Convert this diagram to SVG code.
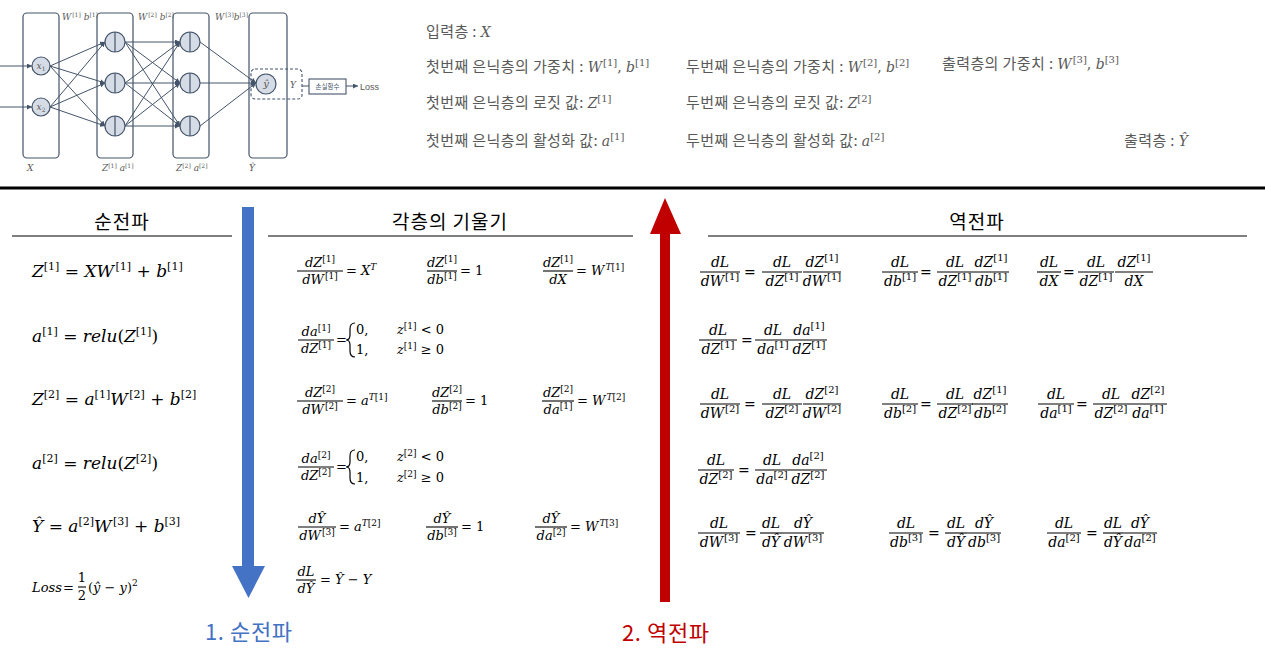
<svg xmlns="http://www.w3.org/2000/svg" width="1265" height="671" viewBox="0 0 1265 671">
<defs>
<style>
.k{font-family:"Noto Sans CJK KR","Noto Sans",sans-serif;fill:#595959;font-size:15px;letter-spacing:0.4px}
.h{font-family:"Noto Sans CJK KR",sans-serif;fill:#000;font-size:19px;text-anchor:middle;letter-spacing:1px}
.m{font-family:"DejaVu Serif",serif;font-style:italic;fill:#000}
.mg{font-family:"DejaVu Serif",serif;font-style:italic;fill:#595959;font-size:14px;letter-spacing:0}
.u{font-style:normal}
.L{font-size:17px}
.g{font-size:13px}
.r{font-size:14px}
.f{text-anchor:middle}
.f line{stroke:#000;stroke-width:1.1}
.s9{font-size:9px;font-style:normal}
.s10{font-size:10px;font-style:normal}
.s11{font-size:11px;font-style:normal}
.s6{font-size:6px;font-style:normal}
.i{font-style:italic}
.ly{fill:none;stroke:#44546a;stroke-width:1.2}
.nd{fill:#d6dce5;stroke:#44546a;stroke-width:1.2}
.vl{stroke:#44546a;stroke-width:1.2}
.cn line{stroke:#44546a;stroke-width:1;marker-end:url(#ah)}
.tl{font-family:"DejaVu Serif",serif;font-style:italic;fill:#595959;font-size:9px}
.br{fill:none;stroke:#000;stroke-width:1.2}
.rule{stroke:#000;stroke-width:1.2}
.big{font-family:"Noto Sans CJK KR",sans-serif;font-size:22px;letter-spacing:0.6px}
</style>
<marker id="ah" viewBox="0 0 6 6" refX="6" refY="3" markerWidth="5" markerHeight="5" orient="auto" markerUnits="userSpaceOnUse"><path d="M0,0L6,3L0,6z" fill="#44546a"/></marker>
</defs>
<rect width="1265" height="671" fill="#fff"/>

<!-- network diagram -->
<g id="layers">
<rect class="ly" x="23" y="13" width="36" height="145" rx="4"/>
<rect class="ly" x="97" y="13" width="36" height="145" rx="4"/>
<rect class="ly" x="173" y="13" width="36" height="145" rx="4"/>
<rect class="ly" x="249" y="13" width="38" height="145" rx="4"/>
</g>
<g id="connectors" class="cn">
<line x1="0" y1="66" x2="32" y2="66"/>
<line x1="0" y1="107" x2="32" y2="107"/>
<line x1="50" y1="66" x2="105" y2="42"/>
<line x1="50" y1="66" x2="105" y2="83"/>
<line x1="50" y1="66" x2="105" y2="126"/>
<line x1="50" y1="107" x2="105" y2="42"/>
<line x1="50" y1="107" x2="105" y2="83"/>
<line x1="50" y1="107" x2="105" y2="126"/>
<line x1="125" y1="42" x2="180" y2="42"/>
<line x1="125" y1="42" x2="180" y2="83"/>
<line x1="125" y1="42" x2="180" y2="126"/>
<line x1="125" y1="83" x2="180" y2="42"/>
<line x1="125" y1="83" x2="180" y2="83"/>
<line x1="125" y1="83" x2="180" y2="126"/>
<line x1="125" y1="126" x2="180" y2="42"/>
<line x1="125" y1="126" x2="180" y2="83"/>
<line x1="125" y1="126" x2="180" y2="126"/>
<line x1="200" y1="42" x2="256" y2="83"/>
<line x1="200" y1="83" x2="256" y2="83"/>
<line x1="200" y1="126" x2="256" y2="83"/>
<line x1="346" y1="86" x2="358" y2="86"/>
<line x1="302" y1="86" x2="309" y2="86" style="marker-end:none"/>
</g>
<g id="node-x1"><circle class="nd" cx="41" cy="66" r="9"/><text class="tl" x="41" y="69" text-anchor="middle" style="font-size:9px">x<tspan class="s6" dy="2">1</tspan></text></g>
<g id="node-x2"><circle class="nd" cx="41" cy="107" r="9"/><text class="tl" x="41" y="110" text-anchor="middle" style="font-size:9px">x<tspan class="s6" dy="2">2</tspan></text></g>
<g id="node-h1a"><circle class="nd" cx="115" cy="42" r="10"/><line class="vl" x1="115" y1="32" x2="115" y2="52"/></g>
<g id="node-h1b"><circle class="nd" cx="115" cy="83" r="10"/><line class="vl" x1="115" y1="73" x2="115" y2="93"/></g>
<g id="node-h1c"><circle class="nd" cx="115" cy="126" r="10"/><line class="vl" x1="115" y1="116" x2="115" y2="136"/></g>
<g id="node-h2a"><circle class="nd" cx="190" cy="42" r="10"/><line class="vl" x1="190" y1="32" x2="190" y2="52"/></g>
<g id="node-h2b"><circle class="nd" cx="190" cy="83" r="10"/><line class="vl" x1="190" y1="73" x2="190" y2="93"/></g>
<g id="node-h2c"><circle class="nd" cx="190" cy="126" r="10"/><line class="vl" x1="190" y1="116" x2="190" y2="136"/></g>
<g id="node-out">
<rect x="251" y="69" width="51" height="30" rx="4" fill="none" stroke="#44546a" stroke-width="1.1" stroke-dasharray="3,2"/>
<circle class="nd" cx="266" cy="84" r="10"/>
<text class="tl" x="266" y="87" text-anchor="middle" style="font-size:10px">ŷ</text>
<text class="tl" x="290" y="88">Y</text>
</g>
<g id="node-loss">
<rect x="309" y="79" width="37" height="15" fill="#fff" stroke="#44546a" stroke-width="1.1"/>
<text x="327.5" y="89" text-anchor="middle" style="font-family:'Noto Sans CJK KR',sans-serif;font-size:6.5px;fill:#44546a">손실함수</text>
<text x="360" y="90" style="font-family:'Liberation Sans',sans-serif;font-size:9px;fill:#595959">Loss</text>
</g>
<g id="net-labels">
<text class="tl" x="62" y="20">W<tspan class="s6" dx="1" dy="-3">[1]</tspan><tspan dy="3"> b</tspan><tspan class="s6" dy="-3">[1]</tspan></text>
<text class="tl" x="138" y="20">W<tspan class="s6" dx="1" dy="-3">[2]</tspan><tspan dy="3"> b</tspan><tspan class="s6" dy="-3">[2]</tspan></text>
<text class="tl" x="215" y="20">W<tspan class="s6" dx="1" dy="-3">[3]</tspan><tspan dy="3">b</tspan><tspan class="s6" dy="-3">[3]</tspan></text>
<text class="tl" x="27" y="171">X</text>
<text class="tl" x="102" y="171">Z<tspan class="s6" dy="-3">[1]</tspan><tspan dy="3">  a</tspan><tspan class="s6" dy="-3">[1]</tspan></text>
<text class="tl" x="176" y="171">Z<tspan class="s6" dy="-3">[2]</tspan><tspan dy="3"> a</tspan><tspan class="s6" dy="-3">[2]</tspan></text>
<text class="tl" x="249" y="171">Ŷ</text>
</g>

<!-- legend text -->
<g id="legend">
<text class="k" x="426" y="37">입력층 : <tspan class="mg">X</tspan></text>
<text class="k" x="426" y="72">첫번째 은닉층의 가중치 : <tspan class="mg">W<tspan class="s10" dx="1" dy="-6">[1]</tspan><tspan class="u" dy="6">, </tspan>b<tspan class="s10" dy="-6">[1]</tspan></tspan></text>
<text class="k" x="686" y="72">두번째 은닉층의 가중치 : <tspan class="mg">W<tspan class="s10" dx="1" dy="-6">[2]</tspan><tspan class="u" dy="6">, </tspan>b<tspan class="s10" dy="-6">[2]</tspan></tspan></text>
<text class="k" x="942" y="69">출력층의 가중치 : <tspan class="mg">W<tspan class="s10" dx="1" dy="-6">[3]</tspan><tspan class="u" dy="6">, </tspan>b<tspan class="s10" dy="-6">[3]</tspan></tspan></text>
<text class="k" x="426" y="108">첫번째 은닉층의 로짓 값: <tspan class="mg">Z<tspan class="s10" dy="-6">[1]</tspan></tspan></text>
<text class="k" x="686" y="108">두번째 은닉층의 로짓 값: <tspan class="mg">Z<tspan class="s10" dy="-6">[2]</tspan></tspan></text>
<text class="k" x="426" y="146">첫번째 은닉층의 활성화 값: <tspan class="mg">a<tspan class="s10" dy="-6">[1]</tspan></tspan></text>
<text class="k" x="686" y="146">두번째 은닉층의 활성화 값: <tspan class="mg">a<tspan class="s10" dy="-6">[2]</tspan></tspan></text>
<text class="k" x="1124" y="146">출력층 : <tspan class="mg">Ŷ</tspan></text>
</g>

<line x1="0" y1="188" x2="1265" y2="188" stroke="#000" stroke-width="3"/>

<!-- headers -->
<g id="headers">
<text class="h" x="122" y="229">순전파</text>
<line class="rule" x1="12" y1="236" x2="232" y2="236"/>
<text class="h" x="450" y="229">각층의 기울기</text>
<line class="rule" x1="268" y1="236" x2="633" y2="236"/>
<text class="h" x="977" y="229">역전파</text>
<line class="rule" x1="708" y1="236" x2="1247" y2="236"/>
</g>

<!-- arrows -->
<g id="forward-arrow">
<polygon points="242,207 254,207 254,566 265,566 248.5,598 232,566 242,566" fill="#4472c4"/>
<text class="big" x="205" y="640" fill="#4472c4">1. 순전파</text>
</g>
<g id="backward-arrow">
<polygon points="665,198 681,234 670,234 670,602 660,602 660,234 650,234" fill="#c00000"/>
<text class="big" x="622" y="641" fill="#c00000">2. 역전파</text>
</g>

<!-- forward formulas -->
<g id="forward" class="m L">
<text x="32" y="277">Z<tspan class="s11" dy="-7">[1]</tspan><tspan class="u" dy="7"> = </tspan>XW<tspan class="s11" dx="1.5" dy="-7">[1]</tspan><tspan class="u" dy="7"> + </tspan>b<tspan class="s11" dy="-7">[1]</tspan></text>
<text x="32" y="342">a<tspan class="s11" dy="-7">[1]</tspan><tspan class="u" dy="7"> = </tspan>relu<tspan class="u">(</tspan>Z<tspan class="s11" dy="-7">[1]</tspan><tspan class="u" dy="7">)</tspan></text>
<text x="32" y="405">Z<tspan class="s11" dy="-7">[2]</tspan><tspan class="u" dy="7"> = </tspan>a<tspan class="s11" dy="-7">[1]</tspan><tspan dy="7">W</tspan><tspan class="s11" dx="1.5" dy="-7">[2]</tspan><tspan class="u" dy="7"> + </tspan>b<tspan class="s11" dy="-7">[2]</tspan></text>
<text x="32" y="469">a<tspan class="s11" dy="-7">[2]</tspan><tspan class="u" dy="7"> = </tspan>relu<tspan class="u">(</tspan>Z<tspan class="s11" dy="-7">[2]</tspan><tspan class="u" dy="7">)</tspan></text>
<text x="32" y="532">Ŷ<tspan class="u"> = </tspan>a<tspan class="s11" dy="-7">[2]</tspan><tspan dy="7">W</tspan><tspan class="s11" dx="1.5" dy="-7">[3]</tspan><tspan class="u" dy="7"> + </tspan>b<tspan class="s11" dy="-7">[3]</tspan></text>
<text x="32" y="592" style="font-size:13px">Loss</text>
<text x="63" y="592" class="u" style="font-size:13px">=</text>
<g class="f" transform="translate(82,587)" style="font-size:13px"><text class="u" y="-5">1</text><line x1="-4" x2="4"/><text class="u" y="13">2</text></g>
<text x="88" y="592" style="font-size:13px"><tspan class="u">(</tspan>ŷ <tspan class="u">−</tspan> y<tspan class="u">)</tspan><tspan class="s9" dy="-6">2</tspan></text>
</g>

<!-- gradients of each layer -->
<g id="layer-gradients" class="m g">
<g class="f" transform="translate(320,271)"><text y="-4">dZ<tspan class="s9" dy="-5">[1]</tspan></text><line x1="-23" x2="23"/><text y="13">dW<tspan class="s9" dx="1" dy="-5">[1]</tspan></text></g>
<text x="346" y="275"><tspan class="u">=</tspan> X<tspan class="s9 i" dy="-5">T</tspan></text>
<g class="f" transform="translate(442,271)"><text y="-4">dZ<tspan class="s9" dy="-5">[1]</tspan></text><line x1="-15" x2="15"/><text y="13">db<tspan class="s9" dy="-5">[1]</tspan></text></g>
<text x="460" y="275" class="u">= 1</text>
<g class="f" transform="translate(558,271)"><text y="-4">dZ<tspan class="s9" dy="-5">[1]</tspan></text><line x1="-15" x2="15"/><text y="13">dX</text></g>
<text x="576" y="275"><tspan class="u">=</tspan> W<tspan class="s9" dx="1" dy="-5"><tspan class="i">T</tspan>[1]</tspan></text>

<g class="f" transform="translate(316,340)"><text y="-4">da<tspan class="s9" dy="-5">[1]</tspan></text><line x1="-18" x2="18"/><text y="13">dZ<tspan class="s9" dy="-5">[1]</tspan></text></g>
<text x="336" y="344" class="u">=</text>
<path class="br" d="M355,323 Q350,323 350,329 L350,335 Q350,340 346,340 Q350,340 350,345 L350,351 Q350,357 355,357"/>
<text x="356" y="334" class="u">0,</text>
<text x="356" y="354" class="u">1,</text>
<text x="397" y="334">z<tspan class="s9" dy="-5">[1]</tspan><tspan class="u" dy="5"> &lt; 0</tspan></text>
<text x="397" y="354">z<tspan class="s9" dy="-5">[1]</tspan><tspan class="u" dy="5"> ≥ 0</tspan></text>

<g class="f" transform="translate(320,401)"><text y="-4">dZ<tspan class="s9" dy="-5">[2]</tspan></text><line x1="-23" x2="23"/><text y="13">dW<tspan class="s9" dx="1" dy="-5">[2]</tspan></text></g>
<text x="346" y="405"><tspan class="u">=</tspan> a<tspan class="s9" dy="-5"><tspan class="i">T</tspan>[1]</tspan></text>
<g class="f" transform="translate(447,401)"><text y="-4">dZ<tspan class="s9" dy="-5">[2]</tspan></text><line x1="-15" x2="15"/><text y="13">db<tspan class="s9" dy="-5">[2]</tspan></text></g>
<text x="465" y="405" class="u">= 1</text>
<g class="f" transform="translate(558,401)"><text y="-4">dZ<tspan class="s9" dy="-5">[2]</tspan></text><line x1="-16" x2="16"/><text y="13">da<tspan class="s9" dy="-5">[1]</tspan></text></g>
<text x="577" y="405"><tspan class="u">=</tspan> W<tspan class="s9" dx="1" dy="-5"><tspan class="i">T</tspan>[2]</tspan></text>

<g class="f" transform="translate(316,467)"><text y="-4">da<tspan class="s9" dy="-5">[2]</tspan></text><line x1="-18" x2="18"/><text y="13">dZ<tspan class="s9" dy="-5">[2]</tspan></text></g>
<text x="336" y="471" class="u">=</text>
<path class="br" d="M355,450 Q350,450 350,456 L350,462 Q350,467 346,467 Q350,467 350,472 L350,478 Q350,484 355,484"/>
<text x="356" y="461" class="u">0,</text>
<text x="356" y="482" class="u">1,</text>
<text x="397" y="461">z<tspan class="s9" dy="-5">[2]</tspan><tspan class="u" dy="5"> &lt; 0</tspan></text>
<text x="397" y="482">z<tspan class="s9" dy="-5">[2]</tspan><tspan class="u" dy="5"> ≥ 0</tspan></text>

<g class="f" transform="translate(317,527)"><text y="-4">dŶ</text><line x1="-19" x2="19"/><text y="13">dW<tspan class="s9" dx="1" dy="-5">[3]</tspan></text></g>
<text x="339" y="531"><tspan class="u">=</tspan> a<tspan class="s9" dy="-5"><tspan class="i">T</tspan>[2]</tspan></text>
<g class="f" transform="translate(442,527)"><text y="-4">dŶ</text><line x1="-16" x2="16"/><text y="13">db<tspan class="s9" dy="-5">[3]</tspan></text></g>
<text x="461" y="531" class="u">= 1</text>
<g class="f" transform="translate(551,527)"><text y="-4">dŶ</text><line x1="-16" x2="16"/><text y="13">da<tspan class="s9" dy="-5">[2]</tspan></text></g>
<text x="570" y="531"><tspan class="u">=</tspan> W<tspan class="s9" dx="1" dy="-5"><tspan class="i">T</tspan>[3]</tspan></text>

<g class="f" transform="translate(306,580)"><text y="-4">dL</text><line x1="-10" x2="10"/><text y="13">dŶ</text></g>
<text x="320" y="584"><tspan class="u">=</tspan> Ŷ <tspan class="u">−</tspan> Y</text>
</g>

<!-- backpropagation -->
<g id="backward" class="m r">
<g class="f" transform="translate(720,272)"><text y="-5">dL</text><line x1="-20" x2="20"/><text y="14">dW<tspan class="s10" dx="1" dy="-6">[1]</tspan></text></g>
<text x="744" y="277" class="u">=</text>
<g class="f" transform="translate(782,272)"><text y="-5">dL</text><line x1="-20" x2="20"/><text y="14">dZ<tspan class="s10" dy="-6">[1]</tspan></text></g>
<g class="f" transform="translate(822,272)"><text y="-5">dZ<tspan class="s10" dy="-6">[1]</tspan></text><line x1="-19" x2="19"/><text y="14">dW<tspan class="s10" dx="1" dy="-6">[1]</tspan></text></g>

<g class="f" transform="translate(900,272)"><text y="-5">dL</text><line x1="-18" x2="18"/><text y="14">db<tspan class="s10" dy="-6">[1]</tspan></text></g>
<text x="920" y="277" class="u">=</text>
<g class="f" transform="translate(955,272)"><text y="-5">dL</text><line x1="-18" x2="18"/><text y="14">dZ<tspan class="s10" dy="-6">[1]</tspan></text></g>
<g class="f" transform="translate(991,272)"><text y="-5">dZ<tspan class="s10" dy="-6">[1]</tspan></text><line x1="-18" x2="18"/><text y="14">db<tspan class="s10" dy="-6">[1]</tspan></text></g>

<g class="f" transform="translate(1049,272)"><text y="-5">dL</text><line x1="-12" x2="12"/><text y="14">dX</text></g>
<text x="1063" y="277" class="u">=</text>
<g class="f" transform="translate(1096,272)"><text y="-5">dL</text><line x1="-18" x2="18"/><text y="14">dZ<tspan class="s10" dy="-6">[1]</tspan></text></g>
<g class="f" transform="translate(1134,272)"><text y="-5">dZ<tspan class="s10" dy="-6">[1]</tspan></text><line x1="-19" x2="19"/><text y="14">dX</text></g>

<g class="f" transform="translate(718,340)"><text y="-5">dL</text><line x1="-19" x2="19"/><text y="14">dZ<tspan class="s10" dy="-6">[1]</tspan></text></g>
<text x="741" y="345" class="u">=</text>
<g class="f" transform="translate(773,340)"><text y="-5">dL</text><line x1="-18" x2="18"/><text y="14">da<tspan class="s10" dy="-6">[1]</tspan></text></g>
<g class="f" transform="translate(809,340)"><text y="-5">da<tspan class="s10" dy="-6">[1]</tspan></text><line x1="-18" x2="18"/><text y="14">dZ<tspan class="s10" dy="-6">[1]</tspan></text></g>

<g class="f" transform="translate(720,404)"><text y="-5">dL</text><line x1="-20" x2="20"/><text y="14">dW<tspan class="s10" dx="1" dy="-6">[2]</tspan></text></g>
<text x="744" y="409" class="u">=</text>
<g class="f" transform="translate(782,404)"><text y="-5">dL</text><line x1="-20" x2="20"/><text y="14">dZ<tspan class="s10" dy="-6">[2]</tspan></text></g>
<g class="f" transform="translate(822,404)"><text y="-5">dZ<tspan class="s10" dy="-6">[2]</tspan></text><line x1="-19" x2="19"/><text y="14">dW<tspan class="s10" dx="1" dy="-6">[2]</tspan></text></g>

<g class="f" transform="translate(900,404)"><text y="-5">dL</text><line x1="-18" x2="18"/><text y="14">db<tspan class="s10" dy="-6">[2]</tspan></text></g>
<text x="920" y="409" class="u">=</text>
<g class="f" transform="translate(955,404)"><text y="-5">dL</text><line x1="-18" x2="18"/><text y="14">dZ<tspan class="s10" dy="-6">[2]</tspan></text></g>
<g class="f" transform="translate(990,404)"><text y="-5">dZ<tspan class="s10" dy="-6">[1]</tspan></text><line x1="-18" x2="18"/><text y="14">db<tspan class="s10" dy="-6">[2]</tspan></text></g>

<g class="f" transform="translate(1056,404)"><text y="-5">dL</text><line x1="-18" x2="18"/><text y="14">da<tspan class="s10" dy="-6">[1]</tspan></text></g>
<text x="1076" y="409" class="u">=</text>
<g class="f" transform="translate(1111,404)"><text y="-5">dL</text><line x1="-18" x2="18"/><text y="14">dZ<tspan class="s10" dy="-6">[2]</tspan></text></g>
<g class="f" transform="translate(1148,404)"><text y="-5">dZ<tspan class="s10" dy="-6">[2]</tspan></text><line x1="-19" x2="19"/><text y="14">da<tspan class="s10" dy="-6">[1]</tspan></text></g>

<g class="f" transform="translate(716,470)"><text y="-5">dL</text><line x1="-18" x2="18"/><text y="14">dZ<tspan class="s10" dy="-6">[2]</tspan></text></g>
<text x="738" y="475" class="u">=</text>
<g class="f" transform="translate(772,470)"><text y="-5">dL</text><line x1="-17" x2="17"/><text y="14">da<tspan class="s10" dy="-6">[2]</tspan></text></g>
<g class="f" transform="translate(808,470)"><text y="-5">da<tspan class="s10" dy="-6">[2]</tspan></text><line x1="-19" x2="19"/><text y="14">dZ<tspan class="s10" dy="-6">[2]</tspan></text></g>

<g class="f" transform="translate(719,533)"><text y="-5">dL</text><line x1="-21" x2="21"/><text y="14">dW<tspan class="s10" dx="1" dy="-6">[3]</tspan></text></g>
<text x="745" y="538" class="u">=</text>
<g class="f" transform="translate(771,533)"><text y="-5">dL</text><line x1="-11" x2="11"/><text y="14">dŶ</text></g>
<g class="f" transform="translate(803,533)"><text y="-5">dŶ</text><line x1="-21" x2="21"/><text y="14">dW<tspan class="s10" dx="1" dy="-6">[3]</tspan></text></g>

<g class="f" transform="translate(906,533)"><text y="-5">dL</text><line x1="-17" x2="17"/><text y="14">db<tspan class="s10" dy="-6">[3]</tspan></text></g>
<text x="928" y="538" class="u">=</text>
<g class="f" transform="translate(956,533)"><text y="-5">dL</text><line x1="-11" x2="11"/><text y="14">dŶ</text></g>
<g class="f" transform="translate(984,533)"><text y="-5">dŶ</text><line x1="-17" x2="17"/><text y="14">db<tspan class="s10" dy="-6">[3]</tspan></text></g>

<g class="f" transform="translate(1064,533)"><text y="-5">dL</text><line x1="-17" x2="17"/><text y="14">da<tspan class="s10" dy="-6">[2]</tspan></text></g>
<text x="1086" y="538" class="u">=</text>
<g class="f" transform="translate(1113,533)"><text y="-5">dL</text><line x1="-10" x2="10"/><text y="14">dŶ</text></g>
<g class="f" transform="translate(1140,533)"><text y="-5">dŶ</text><line x1="-17" x2="17"/><text y="14">da<tspan class="s10" dy="-6">[2]</tspan></text></g>
</g>
</svg>
